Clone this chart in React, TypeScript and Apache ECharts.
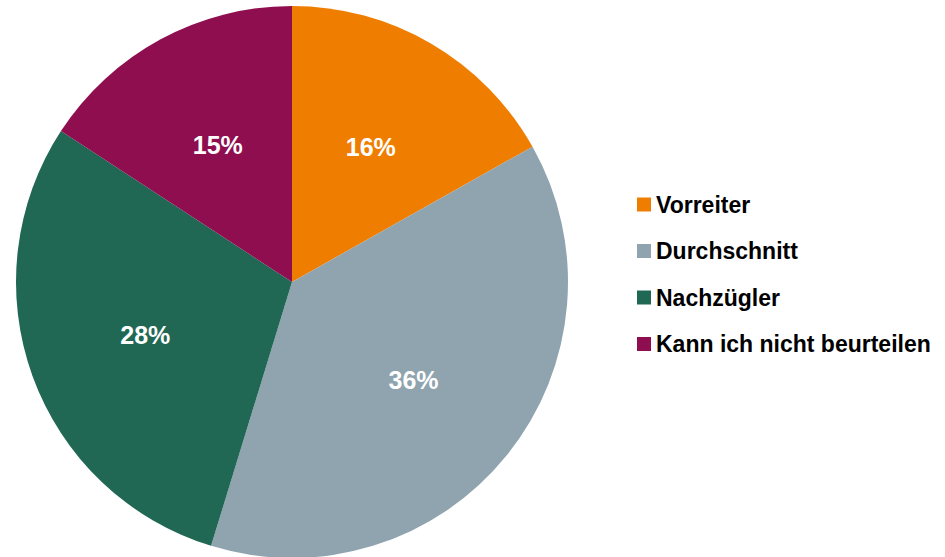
import React, { useEffect, useRef } from "react";
import * as echarts from "echarts";

const categories = ["Vorreiter", "Durchschnitt", "Nachzügler", "Kann ich nicht beurteilen"];
const values = [16, 36, 28, 15];
const colors = ["#EF7E00", "#8FA4AF", "#206754", "#8E0E4F"];

export default function App() {
  const ref = useRef<HTMLDivElement>(null);
  useEffect(() => {
    if (!ref.current) return;
    const chart = echarts.init(ref.current, undefined, { renderer: "svg" });
    const data = categories.map((name, i) => ({
      name,
      value: values[i],
      itemStyle: { color: colors[i] },
    }));
    chart.setOption({
      animation: false,
      backgroundColor: "#ffffff",
      legend: {
        orient: "vertical",
        left: 632,
        top: 188,
        itemWidth: 14,
        itemHeight: 14,
        itemGap: 23.5,
        icon: "rect",
        data: categories,
        textStyle: {
          fontFamily: "'Liberation Sans', Arial, sans-serif",
          fontWeight: "bold",
          fontSize: 23,
          lineHeight: 23,
          color: "#000000",
        },
      },
      series: [
        {
          type: "pie",
          center: [292, 282],
          radius: [0, 276],
          startAngle: 90,
          clockwise: true,
          silent: true,
          label: { show: false },
          labelLine: { show: false },
          data,
        },
        {
          type: "pie",
          center: [292, 282],
          radius: [30, 276],
          startAngle: 90,
          clockwise: true,
          silent: true,
          itemStyle: { color: "transparent" },
          label: {
            show: true,
            position: "inside",
            formatter: "{c}%",
            color: "#ffffff",
            fontFamily: "'Liberation Sans', Arial, sans-serif",
            fontWeight: "bold",
            fontSize: 25,
          },
          labelLine: { show: false },
          data: categories.map((name, i) => ({
            name,
            value: values[i],
            itemStyle: { color: "transparent" },
          })),
        },
      ],
    });
    return () => chart.dispose();
  }, []);
  return (
    <div
      ref={ref}
      style={{ position: "fixed", left: 0, top: 0, width: 945, height: 557 }}
    />
  );
}
